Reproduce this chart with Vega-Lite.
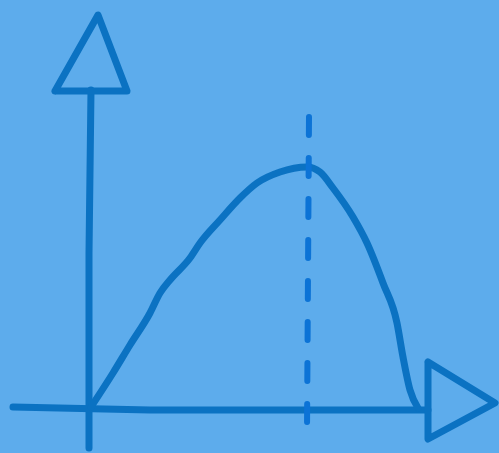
{
  "$schema": "https://vega.github.io/schema/vega-lite/v6.json",
  "width": 499,
  "height": 453,
  "autosize": {"type": "fit", "contains": "padding"},
  "padding": 0,
  "background": "#5DACEC",
  "config": {"view": {"stroke": null}},
  "datasets": {
    "solid": [
      {"part": "yaxis", "i": 0, "x": 89, "y": 5},
      {"part": "yaxis", "i": 1, "x": 89, "y": 200},
      {"part": "yaxis", "i": 2, "x": 91, "y": 363},
      {"part": "ytri", "i": 0, "x": 55, "y": 362},
      {"part": "ytri", "i": 1, "x": 127, "y": 362},
      {"part": "ytri", "i": 2, "x": 98, "y": 438},
      {"part": "ytri", "i": 3, "x": 55, "y": 362},
      {"part": "xaxis", "i": 0, "x": 13, "y": 46},
      {"part": "xaxis", "i": 1, "x": 150, "y": 43},
      {"part": "xaxis", "i": 2, "x": 300, "y": 43},
      {"part": "xaxis", "i": 3, "x": 428, "y": 43},
      {"part": "xtri", "i": 0, "x": 428, "y": 91},
      {"part": "xtri", "i": 1, "x": 495, "y": 50},
      {"part": "xtri", "i": 2, "x": 428, "y": 14},
      {"part": "xtri", "i": 3, "x": 428, "y": 91}
    ],
    "curve": [
      {"i": 0, "x": 91, "y": 46},
      {"i": 1, "x": 113, "y": 80},
      {"i": 2, "x": 130, "y": 108},
      {"i": 3, "x": 150, "y": 140},
      {"i": 4, "x": 160, "y": 160},
      {"i": 5, "x": 170, "y": 173},
      {"i": 6, "x": 190, "y": 195},
      {"i": 7, "x": 200, "y": 210},
      {"i": 8, "x": 220, "y": 233},
      {"i": 9, "x": 240, "y": 255},
      {"i": 10, "x": 257, "y": 270},
      {"i": 11, "x": 280, "y": 281},
      {"i": 12, "x": 307, "y": 286},
      {"i": 13, "x": 320, "y": 281},
      {"i": 14, "x": 333, "y": 265},
      {"i": 15, "x": 353, "y": 236},
      {"i": 16, "x": 367, "y": 210},
      {"i": 17, "x": 383, "y": 170},
      {"i": 18, "x": 397, "y": 130},
      {"i": 19, "x": 403, "y": 96},
      {"i": 20, "x": 410, "y": 63},
      {"i": 21, "x": 418, "y": 45}
    ],
    "dashed": [
      {"i": 0, "x": 309, "y": 336},
      {"i": 1, "x": 307, "y": 21}
    ]
  },
  "encoding": {
    "x": {"field": "x", "type": "quantitative", "scale": {"domain": [0, 499], "nice": false, "zero": false}, "axis": null},
    "y": {"field": "y", "type": "quantitative", "scale": {"domain": [0, 453], "nice": false, "zero": false}, "axis": null},
    "order": {"field": "i"}
  },
  "layer": [
    {
      "data": {"name": "solid"},
      "mark": {"type": "line", "strokeWidth": 7, "strokeCap": "round", "strokeJoin": "round", "interpolate": "linear", "color": "#0B72C2"},
      "encoding": {"detail": {"field": "part"}}
    },
    {
      "data": {"name": "curve"},
      "mark": {"type": "line", "strokeWidth": 7, "strokeCap": "round", "strokeJoin": "round", "interpolate": "monotone", "color": "#0B72C2"},
      "encoding": {}
    },
    {
      "data": {"name": "dashed"},
      "mark": {"type": "line", "strokeWidth": 6, "strokeCap": "round", "strokeDash": [18, 23], "color": "#0C73D6"},
      "encoding": {}
    }
  ]
}
